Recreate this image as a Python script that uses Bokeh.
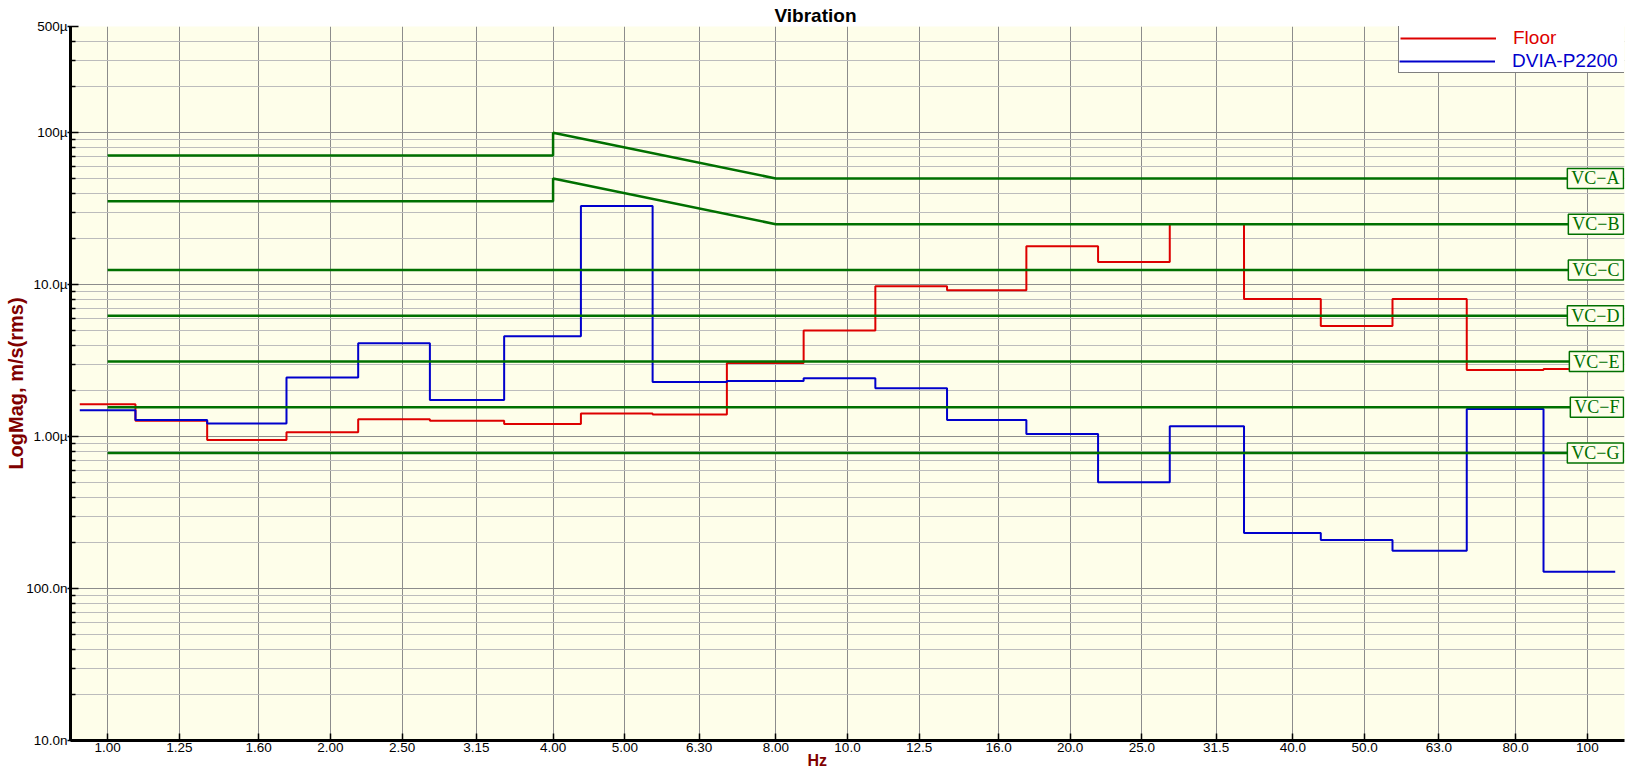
import numpy as np
from bokeh.plotting import figure
from bokeh.models import FixedTicker, Legend, LegendItem, Label, Title, Range1d, LogAxis
from bokeh.embed import file_html
from bokeh.resources import INLINE

# ---------------- data ----------------
band_centers_hz = [1.0, 1.25, 1.6, 2.0, 2.5, 3.15, 4.0, 5.0, 6.3, 8.0, 10.0,
                   12.5, 16.0, 20.0, 25.0, 31.5, 40.0, 50.0, 63.0, 80.0, 100.0]
band_labels = ["1.00", "1.25", "1.60", "2.00", "2.50", "3.15", "4.00", "5.00", "6.30", "8.00", "10.0",
               "12.5", "16.0", "20.0", "25.0", "31.5", "40.0", "50.0", "63.0", "80.0", "100"]
floor_um_s = [1.63, 1.27, 0.95, 1.07, 1.30, 1.27, 1.21, 1.42, 1.40, 3.05, 5.00,
              9.75, 9.20, 17.9, 14.1, 25.1, 8.04, 5.34, 8.04, 2.74, 2.79]
dvia_um_s = [1.49, 1.285, 1.22, 2.45, 4.11, 1.74, 4.57, 32.9, 2.29, 2.32, 2.42,
             2.08, 1.285, 1.04, 0.50, 1.17, 0.232, 0.209, 0.177, 1.52, 0.129]

vc_names = ["VC\u2212A", "VC\u2212B", "VC\u2212C", "VC\u2212D", "VC\u2212E", "VC\u2212F", "VC\u2212G"]
vc_flat_um_s = [50.0, 25.0, 12.5, 6.25, 3.12, 1.56, 0.78]
vc_low_um_s = [70.7, 35.4]      # VC-A, VC-B below 4 Hz
vc_peak_um_s = [100.0, 50.0]    # VC-A, VC-B at 4 Hz
vc_knee_hz = [4.0, 8.0]
vc_span_hz = [1.0, 100.0]

y_tick_values = [1e-8, 1e-7, 1e-6, 1e-5, 1e-4, 5e-4]
y_tick_labels = ["10.0n", "100.0n", "1.00\u00b5", "10.0\u00b5", "100\u00b5", "500\u00b5"]

# ---------------- styles ----------------
RED = "#DD0000"
BLUE = "#0000CC"
GREEN = "#007000"
BG = "#FEFEEA"
DARKRED = "#800000"
FONT = "Liberation Sans"

centers = np.array(band_centers_hz)
k_edge = 2 ** (1 / 8)
x_lo = centers[0] / 2 ** (1 / 6)
x_hi = centers[-1] * 2 ** (1 / 6)


def step_xy(vals):
    lo = np.concatenate([[centers[0] / k_edge], centers[:-1] * k_edge])
    hi = centers * k_edge
    xs = np.column_stack([lo, hi]).ravel()
    ys = np.repeat(np.array(vals) * 1e-6, 2)
    return xs, ys


def spacer_axis(size):
    # an empty axis (white ticks on the white border) used only to reserve room in a side panel
    return LogAxis(ticker=FixedTicker(ticks=[], minor_ticks=[]), major_tick_out=size, major_tick_in=0,
                   minor_tick_out=0, minor_tick_in=0, major_label_standoff=0,
                   axis_line_color=None, major_tick_line_color="white", minor_tick_line_color=None)


W, H = 1632, 776
MB_L, MB_R, MB_T, MB_B = 70, 8, 26, 36

p = figure(width=W, height=H, x_axis_type="log", y_axis_type="log",
           x_range=Range1d(x_lo, x_hi), y_range=Range1d(y_tick_values[0], y_tick_values[-1]),
           output_backend="svg", toolbar_location=None,
           min_border_left=MB_L, min_border_right=MB_R, min_border_top=MB_T, min_border_bottom=MB_B,
           background_fill_color=BG, border_fill_color="white", outline_line_color=None)

# axes
xax = p.xaxis[0]
yax = p.yaxis[0]
xax.ticker = FixedTicker(ticks=band_centers_hz, minor_ticks=[])
xax.major_label_overrides = {c: l for c, l in zip(band_centers_hz, band_labels)}
minor_y = [m * 10.0 ** e for e in range(-8, -3) for m in range(2, 10) if m * 10.0 ** e < 5e-4]
yax.ticker = FixedTicker(ticks=y_tick_values, minor_ticks=minor_y)
yax.major_label_overrides = {v: l for v, l in zip(y_tick_values, y_tick_labels)}

for ax in (xax, yax):
    ax.axis_line_width = 3
    ax.axis_line_color = "black"
    ax.major_tick_line_color = "black"
    ax.major_tick_line_width = 1.5
    ax.major_label_text_font = FONT
    ax.major_label_text_font_size = "13.5px"
    ax.major_label_text_color = "black"

xax.major_tick_in = 7
xax.major_tick_out = 0
xax.minor_tick_line_color = None
xax.major_label_standoff = 2

yax.major_tick_in = 8
yax.major_tick_out = 3
yax.minor_tick_in = 5
yax.minor_tick_out = 0
yax.minor_tick_line_color = "black"
yax.minor_tick_line_width = 1.5
yax.major_label_standoff = 0
yax.axis_label = "LogMag, m/s(rms)"
yax.axis_label_text_font = FONT
yax.axis_label_text_font_size = "20px"
yax.axis_label_text_font_style = "bold"
yax.axis_label_text_color = DARKRED
yax.axis_label_standoff = -4

# grids
p.xgrid.grid_line_color = "#8c8c8c"
p.xgrid.grid_line_width = 1
p.ygrid.grid_line_color = "#8c8c8c"
p.ygrid.grid_line_width = 1
p.ygrid.minor_grid_line_color = "#bcbcbc"
p.ygrid.minor_grid_line_width = 1

# titles (empty spacer axes push the texts outward)
p.add_layout(spacer_axis(8), "above")
p.add_layout(Title(text="Vibration", align="left", offset=704, standoff=-3.4,
                   vertical_align="top",
                   text_font=FONT, text_font_size="19px", text_font_style="bold",
                   text_color="black"), "above")
p.add_layout(spacer_axis(7), "below")
p.add_layout(Title(text="Hz", align="left", offset=737, standoff=-4.5,
                   vertical_align="top",
                   text_font=FONT, text_font_size="16px", text_font_style="bold",
                   text_color=DARKRED), "below")

# data series
fx, fy = step_xy(floor_um_s)
dx, dy = step_xy(dvia_um_s)
r_floor = p.line(fx, fy, line_color=RED, line_width=2)
r_dvia = p.line(dx, dy, line_color=BLUE, line_width=2)

# VC criteria lines
for i, (name, flat) in enumerate(zip(vc_names, vc_flat_um_s)):
    if i < len(vc_low_um_s):
        xs = [vc_span_hz[0], vc_knee_hz[0], vc_knee_hz[0], vc_knee_hz[1], vc_span_hz[1]]
        ys = [vc_low_um_s[i], vc_low_um_s[i], vc_peak_um_s[i], flat, flat]
    else:
        xs = list(vc_span_hz)
        ys = [flat, flat]
    p.line(xs, [v * 1e-6 for v in ys], line_color=GREEN, line_width=2.5)
    p.add_layout(Label(x=x_hi, y=flat * 1e-6, text=name, text_align="right",
                       text_baseline="middle", x_offset=-1,
                       text_font="Liberation Serif", text_font_size="18px", text_color=GREEN,
                       background_fill_color=BG, background_fill_alpha=1.0,
                       border_line_color=GREEN, border_line_width=1.5, padding=(4, 0)))

# legend (two stacked legends so each label gets its series colour)
frame_w = W - MB_L - MB_R
frame_h = H - MB_T - MB_B
PAD, GW, STAND, LW, RH = 1, 96, 17, 110, 22
leg_w = 2 * PAD + GW + STAND + LW
leg_h = 2 * PAD + 2 * RH
vx_a = frame_w - 1 - leg_w
vy_a = frame_h - 1 - leg_h
common = dict(spacing=0, glyph_width=GW, glyph_height=RH, label_width=LW, label_height=RH,
              label_standoff=STAND, label_text_font=FONT, label_text_font_size="19px",
              margin=0, background_fill_color="white", background_fill_alpha=1.0)
leg_a = Legend(items=[LegendItem(label="Floor", renderers=[r_floor]),
                      LegendItem(label="DVIA-P2200", renderers=[r_dvia])],
               location=(vx_a, vy_a), padding=PAD, label_text_color=RED,
               border_line_color="black", border_line_width=1, **common)
leg_b = Legend(items=[LegendItem(label="DVIA-P2200", renderers=[r_dvia])],
               location=(vx_a + PAD, vy_a + PAD), padding=0, label_text_color=BLUE,
               border_line_color=None, **common)
p.add_layout(leg_a)
p.add_layout(leg_b)

open("out.html", "w").write(file_html(p, INLINE))
